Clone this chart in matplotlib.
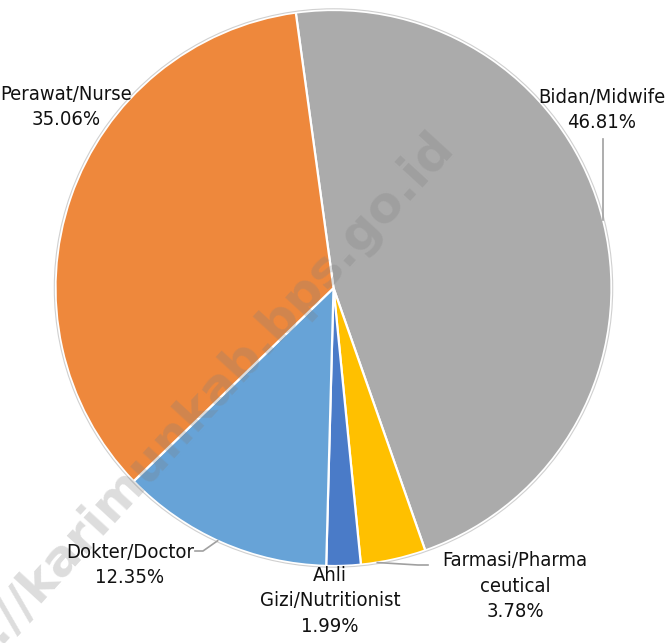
import matplotlib
matplotlib.use("Agg")
import matplotlib.pyplot as plt
import numpy as np

categories = ["Bidan/Midwife", "Farmasi/Pharma\nceutical", "Ahli\nGizi/Nutritionist", "Dokter/Doctor", "Perawat/Nurse"]
values = [46.81, 3.78, 1.99, 12.35, 35.06]
value_labels = ["46.81%", "3.78%", "1.99%", "12.35%", "35.06%"]
colors = ["#ABABAB", "#FFC000", "#4A7BC8", "#67A3D7", "#EE883C"]

W, H = 671, 643
fig = plt.figure(figsize=(W / 100, H / 100), dpi=100)
ax = fig.add_axes([0, 0, 1, 1])

cx, cy, r = 333.5, H - 288, 278
wedges, _ = ax.pie(values, colors=colors, startangle=97.8, counterclock=False,
                   center=(cx, cy), radius=r,
                   wedgeprops=dict(edgecolor="white", linewidth=1.6))
ax.set_xlim(0, W)
ax.set_ylim(0, H)
ax.set_aspect("equal")
ax.axis("off")

circ = plt.Circle((cx, cy), r + 1.2, fill=False, edgecolor="#d0d0d0", linewidth=0.8)
ax.add_patch(circ)

# watermark
ax.text(445, H - 138, "https://karimunkab.bps.go.id", rotation=47.5, ha="right", va="center",
        fontsize=36, color="#808080", alpha=0.27, family="DejaVu Sans", fontweight="semibold",
        rotation_mode="anchor", zorder=5)

def edge_point(w, frac=0.5):
    ang = np.deg2rad(w.theta2 - (w.theta2 - w.theta1) * frac)
    return cx + r * np.cos(ang), cy + r * np.sin(ang)

label_pos = {
    0: (602, 110),
    1: (515, 586),
    2: (330, 601),
    3: (130, 565),
    4: (66, 107),
}
for i, (lab, vl) in enumerate(zip(categories, value_labels)):
    x, y = label_pos[i]
    ax.text(x, H - y, lab + "\n" + vl, ha="center", va="center", fontsize=14.5,
            family="DejaVu Sans", stretch="condensed", color="#111111",
            linespacing=1.45, zorder=6)

lc = "#a0a0a0"
xb = 603
yb = cy + np.sqrt(r ** 2 - (xb - cx) ** 2)
ax.plot([xb, xb], [H - 139, yb], color=lc, lw=1.2, zorder=4)
px, py = edge_point(wedges[3], 0.52)
ax.plot([195, 203, px], [H - 551, H - 551, py], color=lc, lw=1.2, zorder=4)
px, py = edge_point(wedges[1], 0.75)
ax.plot([px, 418, 428], [py, H - 565, H - 565], color=lc, lw=1.2, zorder=4)

fig.savefig("out.png", dpi=100)
